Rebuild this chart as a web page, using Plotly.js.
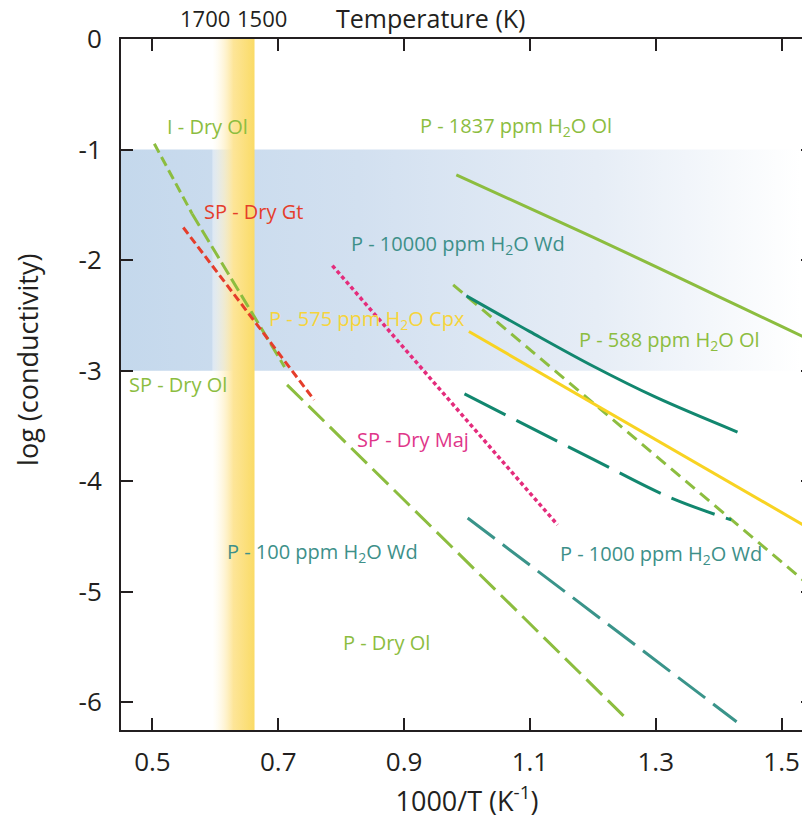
<!DOCTYPE html>
<html>
<head>
<meta charset="utf-8">
<script src="https://cdn.plot.ly/plotly-3.0.1.min.js"></script>
<style>
html,body{margin:0;padding:0;overflow:hidden;background:#fff;}
#chart{width:830px;height:821px;}
</style>
</head>
<body>
<div id="chart"></div>
<script>
// ---- data (x = 1000/T, y = log conductivity) ----
const iDryOlX = [0.503, 0.563];
const iDryOlY = [-0.948, -1.58];
const spDryOlX = [0.563, 0.710];
const spDryOlY = [-1.58, -2.966];
const pDryOlX = [0.714, 1.252];
const pDryOlY = [-3.128, -6.14];
const spDryGtX = [0.549, 0.757];
const spDryGtY = [-1.705, -3.264];
const spDryMajX = [0.786, 1.144];
const spDryMajY = [-2.049, -4.395];
const p1837X = [0.983, 1.1, 1.2, 1.3, 1.4, 1.5, 1.55];
const p1837Y = [-1.228, -1.532, -1.792, -2.058, -2.33, -2.60, -2.735];
const p588X = [0.978, 1.55];
const p588Y = [-2.224, -4.97];
const p575X = [1.003, 1.55];
const p575Y = [-2.646, -4.446];
const p10000X = [0.999, 1.1, 1.2, 1.3, 1.43];
const p10000Y = [-2.323, -2.647, -2.958, -3.24, -3.555];
const p1000X = [0.996, 1.2, 1.32, 1.42];
const p1000Y = [-3.21, -3.80, -4.14, -4.35];
const p100X = [1.001, 1.4285];
const p100Y = [-4.332, -6.175];

// shaded regions
const blueBandX = [0.45, 1.55];
const blueBandY = [-1, -3];
const tempBandK = [1680, 1510];
const yRange = [-6.25, 0];
const xRange = [0.45, 1.55];

// tick labels
const yTickVals = [0, -1, -2, -3, -4, -5, -6];
const yTickText = ['0', '-1', '-2', '-3', '-4', '-5', '-6'];
const tempTicks = [1700, 1500];

// curve labels
const labelText = ["I - Dry Ol", "SP - Dry Gt", "SP - Dry Ol", "P - 575 ppm H<sub>2</sub>O Cpx",
  "P - 10000 ppm H<sub>2</sub>O Wd", "P - 1837 ppm H<sub>2</sub>O Ol", "P - 588 ppm H<sub>2</sub>O Ol",
  "SP - Dry Maj", "P - 100 ppm H<sub>2</sub>O Wd", "P - 1000 ppm H<sub>2</sub>O Wd", "P - Dry Ol"];
const labelX = [0.5874, 0.6613, 0.540, 0.8418, 0.9857, 1.0784, 1.3216, 0.9147, 0.7701, 1.3088, 0.8718];
const labelY = [-0.794, -1.563, -3.128, -2.54, -1.861, -0.794, -2.73, -3.626, -4.649, -4.667, -5.463];

const GREEN = '#8cbd3f', TEAL = '#12876f', TEAL2 = '#3a948a', YEL = '#f8d322', RED = '#e53d2b', MAG = '#e42c7c';
const labelColor = [GREEN, RED, GREEN, '#f6d43c', '#3d9089', GREEN, GREEN, '#df368a', '#3d9089', '#3d9089', GREEN];

const bx0 = blueBandX[0], bx1 = blueBandX[1];
const tx0 = 1000 / tempBandK[0], tx1 = 1000 / tempBandK[1];

const traces = [
  { x: [bx0, bx1, bx1, bx0, bx0], y: [blueBandY[0], blueBandY[0], blueBandY[1], blueBandY[1], blueBandY[0]],
    mode: 'lines', line: {width: 0}, fill: 'toself', hoverinfo: 'skip', showlegend: false,
    fillgradient: {type: 'horizontal', start: 0.45, stop: 1.53,
      colorscale: [[0, '#c4d8ec'], [0.35, '#d2e0f0'], [0.7, '#e6edf6'], [1, '#ffffff']]} },
  { x: [tx0, tx1, tx1, tx0, tx0], y: [yRange[0], yRange[0], yRange[1], yRange[1], yRange[0]],
    mode: 'lines', line: {width: 0}, fill: 'toself', hoverinfo: 'skip', showlegend: false,
    fillgradient: {type: 'horizontal', start: tx0, stop: tx1,
      colorscale: [[0, 'rgba(255,255,255,0.35)'], [0.5, '#fde598'], [1, '#fadb66']]} },
  { x: iDryOlX, y: iDryOlY, mode: 'lines', line: {color: GREEN, width: 3, dash: '10px,5px'}, name: 'I - Dry Ol' },
  { x: spDryOlX, y: spDryOlY, mode: 'lines', line: {color: GREEN, width: 3, dash: '14px,5px'}, name: 'SP - Dry Ol' },
  { x: pDryOlX, y: pDryOlY, mode: 'lines', line: {color: GREEN, width: 3, dash: '22px,8px'}, name: 'P - Dry Ol' },
  { x: spDryGtX, y: spDryGtY, mode: 'lines', line: {color: RED, width: 3, dash: '8px,4px'}, name: 'SP - Dry Gt' },
  { x: spDryMajX, y: spDryMajY, mode: 'lines', line: {color: MAG, width: 3.5, dash: '4px,3px'}, name: 'SP - Dry Maj' },
  { x: p1837X, y: p1837Y, mode: 'lines', line: {color: GREEN, width: 3, shape: 'spline'}, name: 'P - 1837 ppm H2O Ol' },
  { x: p588X, y: p588Y, mode: 'lines', line: {color: GREEN, width: 3, dash: '12px,7px'}, name: 'P - 588 ppm H2O Ol' },
  { x: p575X, y: p575Y, mode: 'lines', line: {color: YEL, width: 3}, name: 'P - 575 ppm H2O Cpx' },
  { x: p10000X, y: p10000Y, mode: 'lines', line: {color: TEAL, width: 3, shape: 'spline'}, name: 'P - 10000 ppm H2O Wd' },
  { x: p1000X, y: p1000Y, mode: 'lines', line: {color: TEAL, width: 3, dash: '46px,12px', shape: 'spline'}, name: 'P - 1000 ppm H2O Wd' },
  { x: p100X, y: p100Y, mode: 'lines', line: {color: TEAL2, width: 3, dash: '34px,10px'}, name: 'P - 100 ppm H2O Wd' }
];

const FONT = 'Open Sans, Noto Sans, sans-serif';
const INK = '#231f20';
const annotations = labelText.map((t, i) => ({
  x: labelX[i], y: labelY[i], xref: 'x', yref: 'y', text: t, showarrow: false,
  xanchor: 'center', yanchor: 'middle', font: {family: FONT, size: 20, color: labelColor[i]}
}));
const tempShift = [-3, 5];
tempTicks.forEach((T, i) => annotations.push({
  x: 1000 / T, y: 1.0308, xref: 'x', yref: 'paper', text: String(T), showarrow: false, xshift: tempShift[i],
  xanchor: 'center', yanchor: 'middle', font: {family: FONT, size: 22, color: INK}
}));
annotations.push({ x: 0.4468, y: 1.0308, xref: 'paper', yref: 'paper', text: 'Temperature (K)', showarrow: false,
  xanchor: 'center', yanchor: 'middle', font: {family: FONT, size: 25, color: INK} });
annotations.push({ x: -0.135, y: 0.535, xref: 'paper', yref: 'paper', text: 'log (conductivity)', showarrow: false,
  textangle: -90, xanchor: 'center', yanchor: 'middle', font: {family: FONT, size: 27, color: INK} });

const axisCommon = {
  showgrid: false, zeroline: false, showline: true, mirror: 'allticks', linecolor: INK, linewidth: 2,
  ticks: 'inside', ticklen: 12, tickwidth: 2, tickcolor: INK,
  tickfont: {family: FONT, size: 26, color: INK}
};

const layout = {
  width: 830, height: 821,
  margin: {l: 121, r: 17, t: 39, b: 91},
  paper_bgcolor: '#ffffff', plot_bgcolor: '#ffffff',
  showlegend: false,
  xaxis: Object.assign({}, axisCommon, {
    range: xRange, tick0: 0.5, dtick: 0.2, tickformat: '.1f', ticklabelstandoff: 8,
    title: {text: '1000/T (K<sup>-1</sup>)', font: {family: FONT, size: 27, color: INK}, standoff: 12}
  }),
  yaxis: Object.assign({}, axisCommon, {
    range: yRange, tickmode: 'array', tickvals: yTickVals, ticktext: yTickText, ticklabelstandoff: 12
  }),
  annotations: annotations
};

Plotly.newPlot('chart', traces, layout, {displayModeBar: false, staticPlot: true});
</script>
</body>
</html>
